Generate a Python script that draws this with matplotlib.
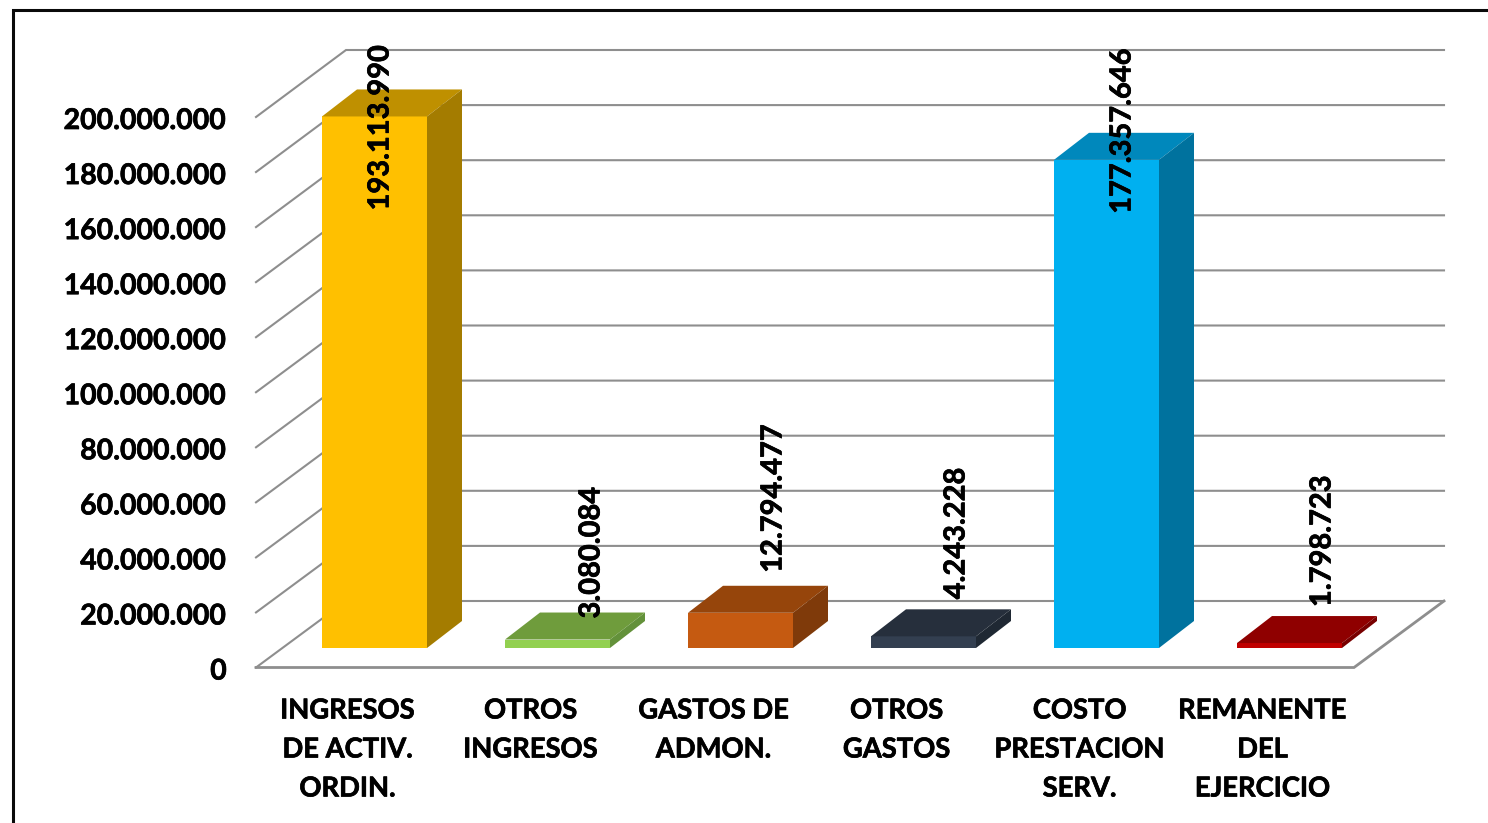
import matplotlib
matplotlib.use("Agg")
import matplotlib.pyplot as plt
import matplotlib.patheffects as pe
from matplotlib.lines import Line2D
from matplotlib.transforms import ScaledTranslation

plt.rcParams['font.family'] = ['Lato', 'DejaVu Sans']

categories = ["INGRESOS\nDE ACTIV.\nORDIN.", "OTROS\nINGRESOS", "GASTOS DE\nADMON.",
              "OTROS\nGASTOS", "COSTO\nPRESTACION\nSERV.", "REMANENTE\nDEL\nEJERCICIO"]
values = [193113990, 3080084, 12794477, 4243228, 177357646, 1798723]
y_ticks = [0, 20000000, 40000000, 60000000, 80000000, 100000000,
           120000000, 140000000, 160000000, 180000000, 200000000]

front_colors = ["#FFC000", "#92D050", "#C55A11", "#333F50", "#00B0F0", "#C00000"]
top_colors = ["#BF9000", "#6F9C3C", "#96450B", "#262F3C", "#0088BC", "#8F0000"]
side_colors = ["#A47C00", "#63913A", "#7F3A0A", "#1F2833", "#00729E", "#780000"]

W, H = 1488, 823
AX_L, AX_R, AX_T, AX_B = 256, 1354, 117, 667.5
PX_X = (AX_R - AX_L) / 6
PX_Y = (AX_B - AX_T) / 200e6
BOLDER = [pe.withStroke(linewidth=0.5, foreground="black")]


def fmt(v):
    return f"{v:,}".replace(",", ".")


fig = plt.figure(figsize=(W / 100, H / 100), dpi=100, facecolor="white")
ax = fig.add_axes([AX_L / W, 1 - AX_B / H, (AX_R - AX_L) / W, (AX_B - AX_T) / H])
ax.set_xlim(0, 6)
ax.set_ylim(0, 200e6)
ax.patch.set_visible(False)
for s in ax.spines.values():
    s.set_visible(False)

# oblique wall and floor
WALL_DX, WALL_DY = 90 / PX_X, 66.5 / PX_Y
WALL_SCALE = 551 / (AX_B - AX_T)
GRID = "#8E8E8E"
for v in y_ticks:
    wy = v * WALL_SCALE + WALL_DY
    ax.plot([0, WALL_DX, 6 + WALL_DX], [v, wy, wy],
            color=GRID, lw=1.5, clip_on=False, zorder=1, solid_joinstyle="miter")
ax.plot([0, 6, 6 + WALL_DX], [0, 0, WALL_DY], color=GRID, lw=2.0, clip_on=False, zorder=1,
        solid_joinstyle="miter")

# bars
BAR_W = 105 / PX_X
BAR_SHIFT = 27 / PX_X
FLOOR = 19.5 / PX_Y
DEPTH_X, DEPTH_Y = 35 / PX_X, 27 / PX_Y
label_dx = [6, 34, 33, 33, 16, 33]
label_dy = [-94, 21, 40, 37, -54, 36]

for i, v in enumerate(values):
    c = i + 0.5 + BAR_SHIFT
    l, r = c - BAR_W / 2, c + BAR_W / 2
    b, t = FLOOR, FLOOR + v
    ax.bar(c, v, width=BAR_W, bottom=FLOOR, color=front_colors[i], zorder=3, clip_on=False)
    ax.fill([l, r, r + DEPTH_X, l + DEPTH_X], [t, t, t + DEPTH_Y, t + DEPTH_Y],
            color=top_colors[i], lw=0, zorder=3, clip_on=False)
    ax.fill([r, r + DEPTH_X, r + DEPTH_X, r], [b, b + DEPTH_Y, t + DEPTH_Y, t],
            color=side_colors[i], lw=0, zorder=3, clip_on=False)
    ax.annotate(fmt(v), (c, t), xytext=(label_dx[i], label_dy[i]), textcoords="offset pixels",
                rotation=90, ha="center", va="bottom", fontsize=20.9, fontweight="bold",
                color="black", zorder=5, annotation_clip=False, path_effects=BOLDER)

ax.set_yticks(y_ticks, [fmt(v) for v in y_ticks])
ax.set_xticks([i + 0.5 for i in range(6)], categories)
ax.tick_params(axis="both", length=0)
ax.tick_params(axis="y", pad=21, labelsize=20.5)
ax.tick_params(axis="x", pad=22.3, labelsize=19.7)
label_shift = ScaledTranslation(0, -1.5 / 100, fig.dpi_scale_trans)
for t in ax.get_yticklabels():
    t.set_transform(t.get_transform() + label_shift)
for t in ax.get_yticklabels() + ax.get_xticklabels():
    t.set_fontweight("bold")
    t.set_color("black")
    t.set_path_effects(BOLDER)
for t in ax.get_xticklabels():
    t.set_linespacing(1.75)

# outer frame: only the top and left edges fall inside the picture
FRAME_X, FRAME_Y = 12.5, 10
fig.add_artist(Line2D([FRAME_X / W, FRAME_X / W, 1.01], [-0.01, 1 - FRAME_Y / H, 1 - FRAME_Y / H],
                      transform=fig.transFigure, color="#0A0A0A", lw=2.2,
                      solid_joinstyle="miter"))

fig.savefig("out.png", dpi=100, facecolor="white")
